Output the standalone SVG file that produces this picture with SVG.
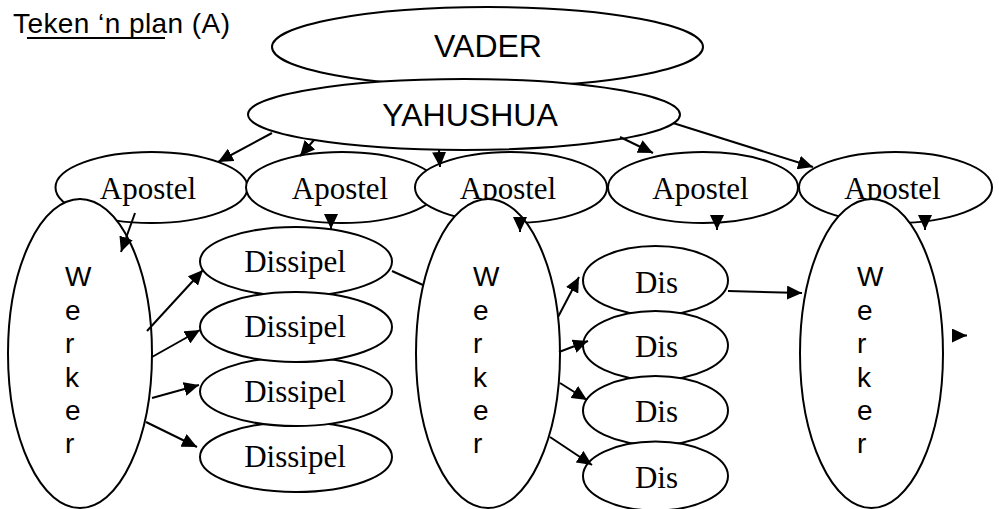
<svg xmlns="http://www.w3.org/2000/svg" width="999" height="509" viewBox="0 0 999 509">
<defs>
<style>
.n{fill:#fff;stroke:#000;stroke-width:2}
.s{font-family:"Liberation Sans",Arial,sans-serif;fill:#000}
.t{font-family:"Liberation Serif","Times New Roman",serif;font-size:31px;fill:#000;text-anchor:middle}
.w{font-family:"Liberation Sans",Arial,sans-serif;font-size:28px;fill:#000}
.c{fill:none;stroke:#000;stroke-width:2}
.c.a{marker-end:url(#ah)}
</style>
<marker id="ah" markerUnits="userSpaceOnUse" markerWidth="15" markerHeight="14" refX="15" refY="7" orient="auto">
<path d="M0,0 L15,7 L0,14 z" fill="#000"/>
</marker>
</defs>
<rect width="999" height="509" fill="#fff"/>
<g id="title">
<text class="s" x="13" y="33" font-size="28" textLength="217" lengthAdjust="spacing">Teken ‘n plan (A)</text>
<rect x="27" y="37" width="138" height="2" fill="#000"/>
</g>
<g id="vader">
<ellipse class="n" cx="487.5" cy="47" rx="215.5" ry="40"/>
<text class="s" x="488" y="57" font-size="32" text-anchor="middle">VADER</text>
</g>
<g id="yahushua">
<ellipse class="n" cx="464" cy="114.5" rx="216" ry="35.5"/>
<text class="s" x="470" y="126" font-size="32" text-anchor="middle">YAHUSHUA</text>
</g>
<g id="apostel1"><ellipse class="n" cx="151.5" cy="187.5" rx="96" ry="35.5"/><text class="t" x="148" y="199">Apostel</text></g>
<g id="apostel2"><ellipse class="n" cx="342" cy="187.5" rx="96" ry="35.5"/><text class="t" x="340" y="199">Apostel</text></g>
<g id="apostel3"><ellipse class="n" cx="511" cy="187.5" rx="96" ry="35.5"/><text class="t" x="508" y="199">Apostel</text></g>
<g id="apostel4"><ellipse class="n" cx="703" cy="187.5" rx="95" ry="35.5"/><text class="t" x="700.5" y="199">Apostel</text></g>
<g id="apostel5"><ellipse class="n" cx="895.5" cy="187.5" rx="96.5" ry="35.5"/><text class="t" x="892.5" y="199">Apostel</text></g>
<g id="werker1">
<ellipse class="n" cx="80" cy="353.5" rx="72" ry="154.5"/>
<text class="w" x="65" y="286">W</text><text class="w" x="65" y="320">e</text><text class="w" x="65" y="353">r</text><text class="w" x="65" y="387">k</text><text class="w" x="65" y="420">e</text><text class="w" x="65" y="453">r</text>
</g>
<g id="werker2">
<ellipse class="n" cx="488" cy="353.5" rx="72" ry="154.5"/>
<text class="w" x="473" y="286">W</text><text class="w" x="473" y="320">e</text><text class="w" x="473" y="353">r</text><text class="w" x="473" y="387">k</text><text class="w" x="473" y="420">e</text><text class="w" x="473" y="453">r</text>
</g>
<g id="werker3">
<ellipse class="n" cx="871.5" cy="353.5" rx="71.5" ry="154.5"/>
<text class="w" x="857" y="286">W</text><text class="w" x="857" y="320">e</text><text class="w" x="857" y="353">r</text><text class="w" x="857" y="387">k</text><text class="w" x="857" y="420">e</text><text class="w" x="857" y="453">r</text>
</g>
<g id="dissipel4"><ellipse class="n" cx="296" cy="457" rx="96" ry="35"/><text class="t" x="295" y="467">Dissipel</text></g>
<g id="dissipel3"><ellipse class="n" cx="296" cy="391.5" rx="96" ry="34.5"/><text class="t" x="295" y="402">Dissipel</text></g>
<g id="dissipel1"><ellipse class="n" cx="296" cy="261.5" rx="96" ry="34.5"/><text class="t" x="295" y="272">Dissipel</text></g>
<g id="dissipel2"><ellipse class="n" cx="296" cy="327" rx="96" ry="35"/><text class="t" x="295" y="337">Dissipel</text></g>
<g id="dis1"><ellipse class="n" cx="655.5" cy="280.5" rx="72.5" ry="34.5"/><text class="t" x="656.5" y="293">Dis</text></g>
<g id="dis2"><ellipse class="n" cx="655.5" cy="345.5" rx="72.5" ry="34.5"/><text class="t" x="656.5" y="357">Dis</text></g>
<g id="dis3"><ellipse class="n" cx="655.5" cy="410.5" rx="72.5" ry="34.5"/><text class="t" x="656.5" y="422">Dis</text></g>
<g id="dis4"><ellipse class="n" cx="655.5" cy="476" rx="72.5" ry="34.5"/><text class="t" x="656.5" y="488">Dis</text></g>
<g id="connectors">
<path class="c a" d="M272,133 L218,162"/>
<path class="c a" d="M314,140 L300,156"/>
<path class="c a" d="M439,150 L440,167"/>
<path class="c a" d="M620,137 L653,153"/>
<path class="c a" d="M673,123 L813,167"/>
<path class="c a" d="M135,213 L121,252"/>
<path class="c a" d="M331,215 L331,229"/>
<path class="c a" d="M520,217 L520,232"/>
<path class="c a" d="M717,216 L717,230"/>
<path class="c a" d="M925,216 L925,230"/>
<path class="c a" d="M147,331 L203,270"/>
<path class="c a" d="M152,357 L200,330"/>
<path class="c a" d="M152,398 L199,385"/>
<path class="c a" d="M146,422 L197,447"/>
<path class="c" d="M392,271 L423,285"/>
<path class="c a" d="M558,317 L579,277"/>
<path class="c a" d="M559,352 L588,341"/>
<path class="c a" d="M560,383 L587,400"/>
<path class="c a" d="M550,437 L592,465"/>
<path class="c a" d="M728,291 L802,293"/>
<path class="c a" d="M953,335.5 L967,335.5"/>
</g>
</svg>
